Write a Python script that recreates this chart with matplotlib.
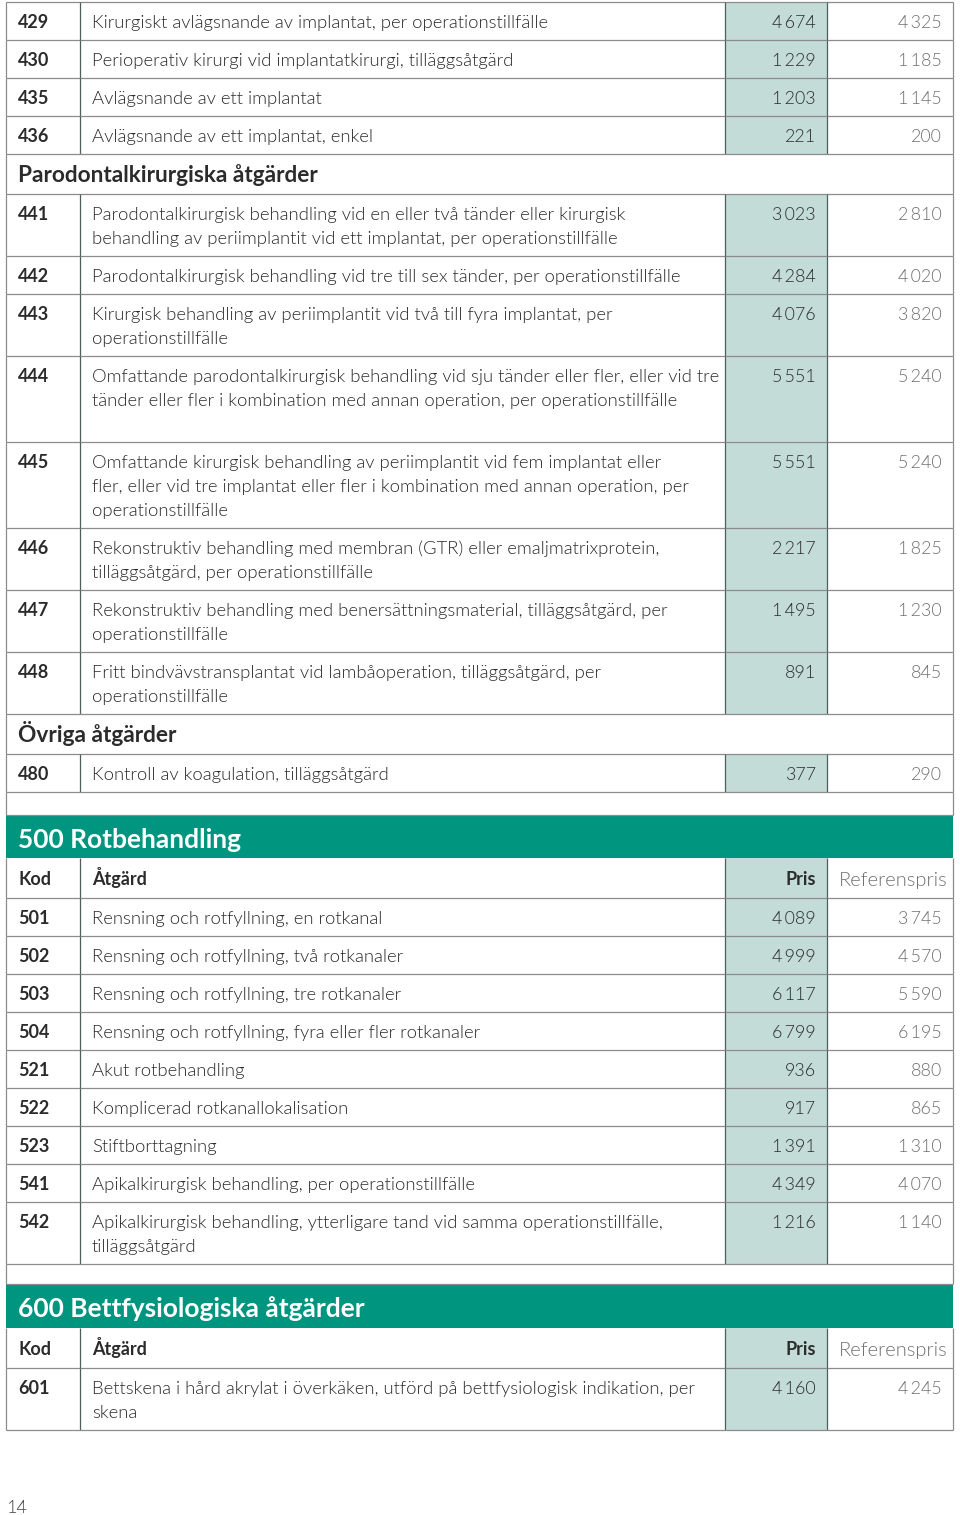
import matplotlib.pyplot as plt
from matplotlib.patches import Rectangle

# ---- data ----
impl_codes = ['429', '430', '435', '436']
impl_texts = ['Kirurgiskt avlägsnande av implantat, per operationstillfälle',
              'Perioperativ kirurgi vid implantatkirurgi, tilläggsåtgärd',
              'Avlägsnande av ett implantat',
              'Avlägsnande av ett implantat, enkel']
impl_pris = ['4 674', '1 229', '1 203', '221']
impl_ref = ['4 325', '1 185', '1 145', '200']

parod_title = 'Parodontalkirurgiska åtgärder'
parod_codes = ['441', '442', '443', '444', '445', '446', '447', '448']
parod_texts = [
    'Parodontalkirurgisk behandling vid en eller två tänder eller kirurgisk\nbehandling av periimplantit vid ett implantat, per operationstillfälle',
    'Parodontalkirurgisk behandling vid tre till sex tänder, per operationstillfälle',
    'Kirurgisk behandling av periimplantit vid två till fyra implantat, per\noperationstillfälle',
    'Omfattande parodontalkirurgisk behandling vid sju tänder eller fler, eller vid tre\ntänder eller fler i kombination med annan operation, per operationstillfälle\n',
    'Omfattande kirurgisk behandling av periimplantit vid fem implantat eller\nfler, eller vid tre implantat eller fler i kombination med annan operation, per\noperationstillfälle',
    'Rekonstruktiv behandling med membran (GTR) eller emaljmatrixprotein,\ntilläggsåtgärd, per operationstillfälle',
    'Rekonstruktiv behandling med benersättningsmaterial, tilläggsåtgärd, per\noperationstillfälle',
    'Fritt bindvävstransplantat vid lambåoperation, tilläggsåtgärd, per\noperationstillfälle',
]
parod_pris = ['3 023', '4 284', '4 076', '5 551', '5 551', '2 217', '1 495', '891']
parod_ref = ['2 810', '4 020', '3 820', '5 240', '5 240', '1 825', '1 230', '845']

ovr_title = 'Övriga åtgärder'
ovr_codes = ['480']
ovr_texts = ['Kontroll av koagulation, tilläggsåtgärd']
ovr_pris = ['377']
ovr_ref = ['290']

rot_title = '500 Rotbehandling'
rot_codes = ['501', '502', '503', '504', '521', '522', '523', '541', '542']
rot_texts = ['Rensning och rotfyllning, en rotkanal',
             'Rensning och rotfyllning, två rotkanaler',
             'Rensning och rotfyllning, tre rotkanaler',
             'Rensning och rotfyllning, fyra eller fler rotkanaler',
             'Akut rotbehandling',
             'Komplicerad rotkanallokalisation',
             'Stiftborttagning',
             'Apikalkirurgisk behandling, per operationstillfälle',
             'Apikalkirurgisk behandling, ytterligare tand vid samma operationstillfälle,\ntilläggsåtgärd']
rot_pris = ['4 089', '4 999', '6 117', '6 799', '936', '917', '1 391', '4 349', '1 216']
rot_ref = ['3 745', '4 570', '5 590', '6 195', '880', '865', '1 310', '4 070', '1 140']

bett_title = '600 Bettfysiologiska åtgärder'
bett_codes = ['601']
bett_texts = ['Bettskena i hård akrylat i överkäken, utförd på bettfysiologisk indikation, per\nskena']
bett_pris = ['4 160']
bett_ref = ['4 245']

col_headers = ['Kod', 'Åtgärd', 'Pris', 'Referenspris']
page_number = '14'

# ---- style ----
TEAL = '#00957f'
PRIS_BG = '#c3dcd7'
HLINE = '#8c8c8c'
VLINE = '#4d5f5d'
TXT = '#2b2b2b'
REF = '#707070'
FONT = ['Lato', 'DejaVu Sans']
LIGHT = 300

X0, X1 = 6, 953
XC, XD, XP = 80, 725, 827

def data_rows(codes, texts, pris, ref):
    return [('data', c, t, p, r) for c, t, p, r in zip(codes, texts, pris, ref)]

def num(s):
    # thousands separator is a thin space in the print
    return s.replace(' ', '\u2009')

layout = (data_rows(impl_codes, impl_texts, impl_pris, impl_ref)
          + [('sub', parod_title)]
          + data_rows(parod_codes, parod_texts, parod_pris, parod_ref)
          + [('sub', ovr_title)]
          + data_rows(ovr_codes, ovr_texts, ovr_pris, ovr_ref)
          + [('gap', 23), ('band', rot_title, 43), ('head',)]
          + data_rows(rot_codes, rot_texts, rot_pris, rot_ref)
          + [('gap', 20), ('band', bett_title, 44), ('head',)]
          + data_rows(bett_codes, bett_texts, bett_pris, bett_ref))

fig = plt.figure(figsize=(9.6, 15.15), dpi=100)
ax = fig.add_axes([0, 0, 1, 1])
ax.set_xlim(0, 960)
ax.set_ylim(1515, 0)
ax.axis('off')

def hline(y):
    ax.plot([X0, X1], [y, y], color=HLINE, lw=0.9, solid_capstyle='butt')

def vlines(y0, y1, inner=True):
    xs = [X0, X1] + ([XC, XD, XP] if inner else [])
    for x in xs:
        c = VLINE if x in (XC, XD, XP) else HLINE
        ax.plot([x, x], [y0, y1], color=c, lw=0.9, solid_capstyle='butt')

body = dict(family=FONT, fontsize=13.3, color=TXT, fontweight=LIGHT)
nums = {**body, 'fontsize': 12.9}
y = 2
hline(y)
for row in layout:
    kind = row[0]
    if kind == 'data':
        _, code, text, p, r = row
        lines = text.split('\n')
        h = 38 + 24 * (len(lines) - 1)
        ax.add_patch(Rectangle((XD, y), XP - XD, h, color=PRIS_BG, lw=0))
        ax.text(18, y + 26, code, family=FONT, fontsize=13, color=TXT,
                fontweight='bold', va='baseline')
        for i, ln in enumerate(lines):
            ax.text(92, y + 26 + 24 * i, ln, va='baseline', **body)
        ax.text(816, y + 26, num(p), ha='right', va='baseline', **nums)
        ax.text(942, y + 26, num(r), ha='right', va='baseline',
                **{**nums, 'color': REF})
        vlines(y, y + h)
    elif kind == 'sub':
        h = 40
        ax.text(18, y + 28, row[1], family=FONT, fontsize=16.3, color=TXT,
                fontweight='bold', va='baseline')
        vlines(y, y + h, inner=False)
    elif kind == 'gap':
        h = row[1]
        vlines(y, y + h, inner=False)
    elif kind == 'band':
        h = row[2]
        ax.add_patch(Rectangle((X0, y), X1 - X0, h, color=TEAL, lw=0))
        ax.text(18, y + 33, row[1], family=FONT, fontsize=19, color='white',
                fontweight='bold', va='baseline')
    elif kind == 'head':
        h = 40
        ax.add_patch(Rectangle((XD, y), XP - XD, h, color=PRIS_BG, lw=0))
        ax.text(18, y + 27, col_headers[0], family=FONT, fontsize=13,
                color=TXT, fontweight='bold', va='baseline')
        ax.text(92, y + 27, col_headers[1], family=FONT, fontsize=13,
                color=TXT, fontweight='bold', va='baseline')
        ax.text(816, y + 27, col_headers[2], family=FONT, fontsize=13,
                color=TXT, fontweight='bold', va='baseline', ha='right')
        ax.text(948, y + 28, col_headers[3], family=FONT, fontsize=14.5,
                color=REF, fontweight=LIGHT, va='baseline', ha='right')
        vlines(y, y + h)
    y += h
    if kind != 'band':
        hline(y)

ax.text(6, 1513, page_number, family=FONT, fontsize=13, color='#444444',
        fontweight=LIGHT, va='baseline')

fig.savefig('out.png', dpi=100)
